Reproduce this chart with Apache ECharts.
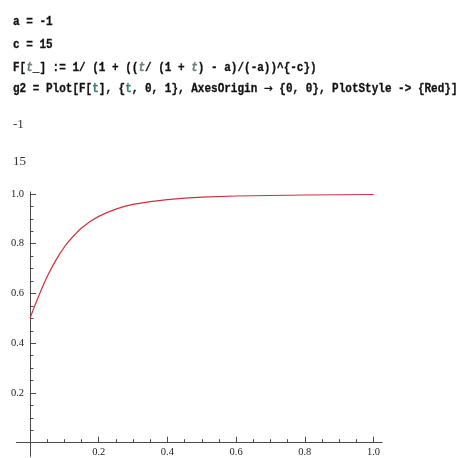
<!DOCTYPE html>
<html>
<head>
<meta charset="utf-8">
<script src="https://cdn.jsdelivr.net/npm/echarts@6/dist/echarts.min.js"></script>
<style>
  html, body { margin: 0; padding: 0; background: #fff; }
  #chart { width: 458px; height: 458px; }
</style>
</head>
<body>
<div id="chart"></div>
<script>
// Sample points of F(t) on 0..1
const tValues = [0, 0.0125, 0.025, 0.0375, 0.05, 0.0625, 0.075, 0.0875, 0.1, 0.1125, 0.125, 0.1375, 0.15, 0.175, 0.2, 0.225, 0.25, 0.275, 0.3, 0.35, 0.4, 0.45, 0.5, 0.6, 0.7, 0.8, 0.9, 1.0];
const fValues = [0.500, 0.546, 0.589, 0.630, 0.668, 0.702, 0.733, 0.761, 0.787, 0.809, 0.829, 0.847, 0.863, 0.889, 0.910, 0.926, 0.939, 0.950, 0.958, 0.969, 0.977, 0.983, 0.987, 0.992, 0.994, 0.996, 0.997, 0.998];

// Tick positions
const xMajorTicks = [0.2, 0.4, 0.6, 0.8, 1.0];
const xMinorTicks = [0.05, 0.1, 0.15, 0.25, 0.3, 0.35, 0.45, 0.5, 0.55, 0.65, 0.7, 0.75, 0.85, 0.9, 0.95];
const yMajorTicks = [0.2, 0.4, 0.6, 0.8, 1.0];
const yMinorTicks = [0.05, 0.1, 0.15, 0.25, 0.3, 0.35, 0.45, 0.5, 0.55, 0.65, 0.7, 0.75, 0.85, 0.9, 0.95];

// Notebook cells
const inputLines = [
  'a = -1',
  'c = 15',
  'F[{v|t}_] := 1/ (1 + (({v|t}/ (1 + {v|t}) - a)/(-a))^{-c})',
  'g2 = Plot[F[{w|t}], {{w|t}, 0, 1}, AxesOrigin {r|\u2192} {0, 0}, PlotStyle -> {Red}]'
];
const outputLines = ['-1', '15'];

const chart = echarts.init(document.getElementById('chart'));

const axisColor = '#4a4a4a';
const labelFont = {
  fontFamily: '"Liberation Serif", "Times New Roman", serif',
  fontSize: 10.5,
  color: '#222'
};

const monoFont = '"Liberation Mono", "Courier New", monospace';
const inputY = [22, 45, 67.5, 89];
const outputY = [125, 162];

const graphics = [];
inputLines.forEach((s, i) => {
  graphics.push({
    type: 'text',
    x: 13,
    y: inputY[i],
    scaleX: 0.88,
    style: {
      text: s,
      fill: '#111',
      stroke: '#111',
      lineWidth: 0.3,
      fontFamily: monoFont,
      fontSize: 12.5,
      fontWeight: 'bold',
      verticalAlign: 'middle',
      align: 'left',
      rich: {
        v: { fill: '#6f8478', stroke: '#6f8478', lineWidth: 0.3, fontFamily: monoFont, fontSize: 12.5, fontWeight: 'bold', fontStyle: 'italic' },
        w: { fill: '#3f7f7a', stroke: '#3f7f7a', lineWidth: 0.3, fontFamily: monoFont, fontSize: 12.5, fontWeight: 'bold' },
        r: { fill: '#111', fontFamily: '"DejaVu Sans", sans-serif', fontSize: 12 }
      }
    }
  });
});
outputLines.forEach((s, i) => {
  graphics.push({
    type: 'text',
    x: 13,
    y: outputY[i],
    style: {
      text: s,
      fill: '#333',
      fontFamily: '"Liberation Serif", "Times New Roman", serif',
      fontSize: 13,
      verticalAlign: 'middle',
      align: 'left'
    }
  });
});

// Grid 0 carries the padded axis lines through the origin,
// grid 1 holds the curve, the ticks and the tick labels.
const pad = { xMin: -0.04, xMax: 1.025, yMin: -0.055, yMax: 1.008 };

chart.setOption({
  animation: false,
  backgroundColor: '#fff',
  graphic: graphics,
  grid: [
    { left: 16.3, right: 75.9, top: 192, bottom: 1.6, containLabel: false, outerBoundsMode: 'none' },
    { left: 30, right: 75.9, top: 192, bottom: 15.3, containLabel: false, outerBoundsMode: 'none' }
  ],
  xAxis: [
    {
      gridIndex: 0, type: 'value', min: pad.xMin, max: pad.xMax, position: 'bottom',
      axisLine: { show: true, onZero: true, onZeroAxisIndex: 0, lineStyle: { color: axisColor, width: 1 } },
      axisTick: { show: false }, axisLabel: { show: false }, splitLine: { show: false }
    },
    {
      gridIndex: 1, type: 'value', min: 0, max: pad.xMax, position: 'bottom',
      axisLine: { show: false, onZero: false },
      axisTick: { show: true, inside: true, length: 6, customValues: xMajorTicks, lineStyle: { color: axisColor } },
      axisLabel: Object.assign({ show: true, margin: 4, customValues: xMajorTicks, formatter: v => v.toFixed(1) }, labelFont),
      splitLine: { show: false }
    },
    {
      gridIndex: 1, type: 'value', min: 0, max: pad.xMax, position: 'bottom',
      axisLine: { show: false, onZero: false },
      axisTick: { show: true, inside: true, length: 3.5, customValues: xMinorTicks, lineStyle: { color: axisColor } },
      axisLabel: { show: false }, splitLine: { show: false }
    }
  ],
  yAxis: [
    {
      gridIndex: 0, type: 'value', min: pad.yMin, max: pad.yMax, position: 'left',
      axisLine: { show: true, onZero: true, onZeroAxisIndex: 0, lineStyle: { color: axisColor, width: 1 } },
      axisTick: { show: false }, axisLabel: { show: false }, splitLine: { show: false }
    },
    {
      gridIndex: 1, type: 'value', min: 0, max: pad.yMax, position: 'left',
      axisLine: { show: false, onZero: false },
      axisTick: { show: true, inside: true, length: 6, customValues: yMajorTicks, lineStyle: { color: axisColor } },
      axisLabel: Object.assign({ show: true, margin: 6, customValues: yMajorTicks, formatter: v => v.toFixed(1) }, labelFont),
      splitLine: { show: false }
    },
    {
      gridIndex: 1, type: 'value', min: 0, max: pad.yMax, position: 'left',
      axisLine: { show: false, onZero: false },
      axisTick: { show: true, inside: true, length: 3.5, customValues: yMinorTicks, lineStyle: { color: axisColor } },
      axisLabel: { show: false }, splitLine: { show: false }
    }
  ],
  series: [
    {
      type: 'line',
      xAxisIndex: 1,
      yAxisIndex: 1,
      data: tValues.map((t, i) => [t, fValues[i]]),
      showSymbol: false,
      smooth: false,
      clip: false,
      lineStyle: { color: '#d0303e', width: 1.2 },
      silent: true
    }
  ]
});
</script>
</body>
</html>
